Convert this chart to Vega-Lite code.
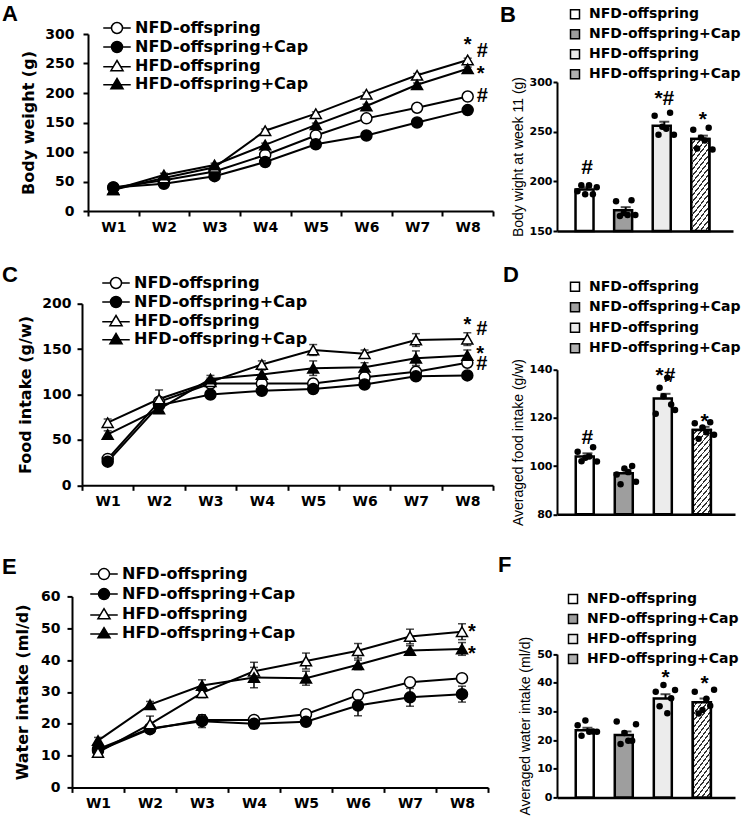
{
"$schema": "https://vega.github.io/schema/vega-lite/v6.json",
"background": "white",
"padding": {"left": 2, "top": 3, "right": 2, "bottom": 2},
"config": {
 "view": {"stroke": null},
 "font": "DejaVu Sans",
 "axis": {"domainColor": "black", "domainWidth": 2, "tickColor": "black", "tickWidth": 2, "labelColor": "black", "titleColor": "black", "labelFont": "DejaVu Sans", "labelFontWeight": "bold", "titleFont": "DejaVu Sans", "titleFontWeight": "bold", "grid": false},
 "legend": {"labelColor": "black", "labelFont": "DejaVu Sans", "labelFontWeight": "bold", "labelLimit": 400},
 "title": {"font": "Liberation Sans", "fontWeight": "bold", "fontSize": 22, "color": "black", "anchor": "start", "frame": "group", "offset": 0}
},
"datasets": {
 "bw": [
  {"week": 1, "group": "NFD-offspring", "value": 40, "lower": 37, "upper": 43},
  {"week": 2, "group": "NFD-offspring", "value": 52, "lower": 49, "upper": 55},
  {"week": 3, "group": "NFD-offspring", "value": 67, "lower": 64, "upper": 70},
  {"week": 4, "group": "NFD-offspring", "value": 95, "lower": 92, "upper": 98},
  {"week": 5, "group": "NFD-offspring", "value": 128, "lower": 125, "upper": 131},
  {"week": 6, "group": "NFD-offspring", "value": 157, "lower": 154, "upper": 160},
  {"week": 7, "group": "NFD-offspring", "value": 175, "lower": 172, "upper": 178},
  {"week": 8, "group": "NFD-offspring", "value": 194, "lower": 191, "upper": 197},
  {"week": 1, "group": "NFD-offspring+Cap", "value": 40, "lower": 37, "upper": 43},
  {"week": 2, "group": "NFD-offspring+Cap", "value": 46, "lower": 43, "upper": 49},
  {"week": 3, "group": "NFD-offspring+Cap", "value": 59, "lower": 56, "upper": 62},
  {"week": 4, "group": "NFD-offspring+Cap", "value": 83, "lower": 80, "upper": 86},
  {"week": 5, "group": "NFD-offspring+Cap", "value": 113, "lower": 110, "upper": 116},
  {"week": 6, "group": "NFD-offspring+Cap", "value": 128, "lower": 125, "upper": 131},
  {"week": 7, "group": "NFD-offspring+Cap", "value": 150, "lower": 147, "upper": 153},
  {"week": 8, "group": "NFD-offspring+Cap", "value": 171, "lower": 168, "upper": 174},
  {"week": 1, "group": "HFD-offspring", "value": 36, "lower": 33, "upper": 39},
  {"week": 2, "group": "HFD-offspring", "value": 56, "lower": 53, "upper": 59},
  {"week": 3, "group": "HFD-offspring", "value": 74, "lower": 71, "upper": 77},
  {"week": 4, "group": "HFD-offspring", "value": 136, "lower": 133, "upper": 139},
  {"week": 5, "group": "HFD-offspring", "value": 165, "lower": 162, "upper": 168},
  {"week": 6, "group": "HFD-offspring", "value": 198, "lower": 195, "upper": 201},
  {"week": 7, "group": "HFD-offspring", "value": 230, "lower": 227, "upper": 233},
  {"week": 8, "group": "HFD-offspring", "value": 256, "lower": 253, "upper": 259},
  {"week": 1, "group": "HFD-offspring+Cap", "value": 36, "lower": 33, "upper": 39},
  {"week": 2, "group": "HFD-offspring+Cap", "value": 61, "lower": 58, "upper": 64},
  {"week": 3, "group": "HFD-offspring+Cap", "value": 78, "lower": 75, "upper": 81},
  {"week": 4, "group": "HFD-offspring+Cap", "value": 112, "lower": 109, "upper": 115},
  {"week": 5, "group": "HFD-offspring+Cap", "value": 146, "lower": 143, "upper": 149},
  {"week": 6, "group": "HFD-offspring+Cap", "value": 178, "lower": 175, "upper": 181},
  {"week": 7, "group": "HFD-offspring+Cap", "value": 214, "lower": 211, "upper": 217},
  {"week": 8, "group": "HFD-offspring+Cap", "value": 241, "lower": 238, "upper": 244}
 ],
 "bwAnn": [
  {"week": 8, "value": 271, "label": "*", "pos": "c"},
  {"week": 8, "value": 261, "label": "#", "pos": "r"},
  {"week": 8, "value": 222, "label": "*", "pos": "r"},
  {"week": 8, "value": 185, "label": "#", "pos": "r"}
 ],
 "food": [
  {"week": 1, "group": "NFD-offspring", "value": 29, "lower": 26, "upper": 32},
  {"week": 2, "group": "NFD-offspring", "value": 92, "lower": 88, "upper": 96},
  {"week": 3, "group": "NFD-offspring", "value": 112, "lower": 108, "upper": 116},
  {"week": 4, "group": "NFD-offspring", "value": 112, "lower": 108, "upper": 116},
  {"week": 5, "group": "NFD-offspring", "value": 112, "lower": 107, "upper": 117},
  {"week": 6, "group": "NFD-offspring", "value": 119, "lower": 115, "upper": 123},
  {"week": 7, "group": "NFD-offspring", "value": 125, "lower": 120, "upper": 130},
  {"week": 8, "group": "NFD-offspring", "value": 135, "lower": 131, "upper": 139},
  {"week": 1, "group": "NFD-offspring+Cap", "value": 26, "lower": 24, "upper": 28},
  {"week": 2, "group": "NFD-offspring+Cap", "value": 88, "lower": 85, "upper": 91},
  {"week": 3, "group": "NFD-offspring+Cap", "value": 100, "lower": 97, "upper": 103},
  {"week": 4, "group": "NFD-offspring+Cap", "value": 104, "lower": 101, "upper": 107},
  {"week": 5, "group": "NFD-offspring+Cap", "value": 106, "lower": 103, "upper": 109},
  {"week": 6, "group": "NFD-offspring+Cap", "value": 111, "lower": 108, "upper": 114},
  {"week": 7, "group": "NFD-offspring+Cap", "value": 120, "lower": 117, "upper": 123},
  {"week": 8, "group": "NFD-offspring+Cap", "value": 121, "lower": 118, "upper": 124},
  {"week": 1, "group": "HFD-offspring", "value": 69, "lower": 65, "upper": 73},
  {"week": 2, "group": "HFD-offspring", "value": 95, "lower": 85, "upper": 105},
  {"week": 3, "group": "HFD-offspring", "value": 114, "lower": 110, "upper": 118},
  {"week": 4, "group": "HFD-offspring", "value": 133, "lower": 129, "upper": 137},
  {"week": 5, "group": "HFD-offspring", "value": 149, "lower": 143, "upper": 155},
  {"week": 6, "group": "HFD-offspring", "value": 145, "lower": 141, "upper": 149},
  {"week": 7, "group": "HFD-offspring", "value": 160, "lower": 153, "upper": 167},
  {"week": 8, "group": "HFD-offspring", "value": 161, "lower": 154, "upper": 168},
  {"week": 1, "group": "HFD-offspring+Cap", "value": 56, "lower": 52, "upper": 60},
  {"week": 2, "group": "HFD-offspring+Cap", "value": 84, "lower": 80, "upper": 88},
  {"week": 3, "group": "HFD-offspring+Cap", "value": 117, "lower": 113, "upper": 121},
  {"week": 4, "group": "HFD-offspring+Cap", "value": 122, "lower": 117, "upper": 127},
  {"week": 5, "group": "HFD-offspring+Cap", "value": 129, "lower": 121, "upper": 137},
  {"week": 6, "group": "HFD-offspring+Cap", "value": 130, "lower": 125, "upper": 135},
  {"week": 7, "group": "HFD-offspring+Cap", "value": 140, "lower": 132, "upper": 148},
  {"week": 8, "group": "HFD-offspring+Cap", "value": 143, "lower": 137, "upper": 149}
 ],
 "foodAnn": [
  {"week": 8, "value": 170, "label": "*", "pos": "c"},
  {"week": 8, "value": 165, "label": "#", "pos": "r"},
  {"week": 8, "value": 138, "label": "*", "pos": "r"},
  {"week": 8, "value": 127, "label": "#", "pos": "r"}
 ],
 "water": [
  {"week": 1, "group": "NFD-offspring", "value": 11.5, "lower": 10.7, "upper": 12.3},
  {"week": 2, "group": "NFD-offspring", "value": 18.3, "lower": 17.3, "upper": 19.3},
  {"week": 3, "group": "NFD-offspring", "value": 21.2, "lower": 19.7, "upper": 22.7},
  {"week": 4, "group": "NFD-offspring", "value": 21.2, "lower": 20.2, "upper": 22.2},
  {"week": 5, "group": "NFD-offspring", "value": 23, "lower": 22, "upper": 24},
  {"week": 6, "group": "NFD-offspring", "value": 29, "lower": 28, "upper": 30},
  {"week": 7, "group": "NFD-offspring", "value": 33, "lower": 32, "upper": 34},
  {"week": 8, "group": "NFD-offspring", "value": 34.3, "lower": 33.3, "upper": 35.3},
  {"week": 1, "group": "NFD-offspring+Cap", "value": 12, "lower": 11, "upper": 13},
  {"week": 2, "group": "NFD-offspring+Cap", "value": 18.5, "lower": 17.5, "upper": 19.5},
  {"week": 3, "group": "NFD-offspring+Cap", "value": 20.8, "lower": 18.8, "upper": 22.8},
  {"week": 4, "group": "NFD-offspring+Cap", "value": 20, "lower": 18.5, "upper": 21.5},
  {"week": 5, "group": "NFD-offspring+Cap", "value": 20.6, "lower": 19.6, "upper": 21.6},
  {"week": 6, "group": "NFD-offspring+Cap", "value": 25.7, "lower": 22.5, "upper": 28.9},
  {"week": 7, "group": "NFD-offspring+Cap", "value": 28.3, "lower": 25.5, "upper": 31.1},
  {"week": 8, "group": "NFD-offspring+Cap", "value": 29.3, "lower": 26.8, "upper": 31.8},
  {"week": 1, "group": "HFD-offspring", "value": 11, "lower": 10, "upper": 12},
  {"week": 2, "group": "HFD-offspring", "value": 19.9, "lower": 17.4, "upper": 22.4},
  {"week": 3, "group": "HFD-offspring", "value": 29.7, "lower": 28.2, "upper": 31.2},
  {"week": 4, "group": "HFD-offspring", "value": 36.5, "lower": 33.7, "upper": 39.3},
  {"week": 5, "group": "HFD-offspring", "value": 39.7, "lower": 37.2, "upper": 42.2},
  {"week": 6, "group": "HFD-offspring", "value": 42.9, "lower": 40.6, "upper": 45.2},
  {"week": 7, "group": "HFD-offspring", "value": 47.4, "lower": 45.1, "upper": 49.7},
  {"week": 8, "group": "HFD-offspring", "value": 48.9, "lower": 46.4, "upper": 51.4},
  {"week": 1, "group": "HFD-offspring+Cap", "value": 14.7, "lower": 13.7, "upper": 15.7},
  {"week": 2, "group": "HFD-offspring+Cap", "value": 26, "lower": 25, "upper": 27},
  {"week": 3, "group": "HFD-offspring+Cap", "value": 32, "lower": 30.2, "upper": 33.8},
  {"week": 4, "group": "HFD-offspring+Cap", "value": 34.5, "lower": 31.3, "upper": 37.7},
  {"week": 5, "group": "HFD-offspring+Cap", "value": 34.3, "lower": 32.1, "upper": 36.5},
  {"week": 6, "group": "HFD-offspring+Cap", "value": 38.5, "lower": 37, "upper": 40},
  {"week": 7, "group": "HFD-offspring+Cap", "value": 43, "lower": 41.5, "upper": 44.5},
  {"week": 8, "group": "HFD-offspring+Cap", "value": 43.5, "lower": 41.5, "upper": 45.5}
 ],
 "waterAnn": [
  {"week": 8, "value": 46.8, "label": "*", "pos": "r"},
  {"week": 8, "value": 39.9, "label": "*", "pos": "r"}
 ],
 "bwBar": [
  {"group": "NFD-offspring", "mean": 191.7, "upper": 194},
  {"group": "NFD-offspring+Cap", "mean": 171, "upper": 174},
  {"group": "HFD-offspring", "mean": 256, "upper": 260},
  {"group": "HFD-offspring+Cap", "mean": 242.5, "upper": 246}
 ],
 "foodBar": [
  {"group": "NFD-offspring", "mean": 104, "upper": 105.3},
  {"group": "NFD-offspring+Cap", "mean": 97, "upper": 98.5},
  {"group": "HFD-offspring", "mean": 128, "upper": 130},
  {"group": "HFD-offspring+Cap", "mean": 115, "upper": 116.3}
 ],
 "waterBar": [
  {"group": "NFD-offspring", "mean": 23.4, "upper": 24.3},
  {"group": "NFD-offspring+Cap", "mean": 21.8, "upper": 23},
  {"group": "HFD-offspring", "mean": 34.5, "upper": 36},
  {"group": "HFD-offspring+Cap", "mean": 33.2, "upper": 34.5}
 ],
 "bwDots": [
  {"group": "NFD-offspring", "rep": 1, "value": 190}, {"group": "NFD-offspring", "rep": 2, "value": 196}, {"group": "NFD-offspring", "rep": 3, "value": 187},
  {"group": "NFD-offspring", "rep": 4, "value": 196}, {"group": "NFD-offspring", "rep": 5, "value": 187}, {"group": "NFD-offspring", "rep": 6, "value": 194},
  {"group": "NFD-offspring+Cap", "rep": 1, "value": 180}, {"group": "NFD-offspring+Cap", "rep": 2, "value": 165}, {"group": "NFD-offspring+Cap", "rep": 3, "value": 168},
  {"group": "NFD-offspring+Cap", "rep": 4, "value": 166}, {"group": "NFD-offspring+Cap", "rep": 5, "value": 181}, {"group": "NFD-offspring+Cap", "rep": 6, "value": 166},
  {"group": "HFD-offspring", "rep": 1, "value": 266}, {"group": "HFD-offspring", "rep": 2, "value": 247}, {"group": "HFD-offspring", "rep": 3, "value": 255},
  {"group": "HFD-offspring", "rep": 4, "value": 253}, {"group": "HFD-offspring", "rep": 5, "value": 269}, {"group": "HFD-offspring", "rep": 6, "value": 247},
  {"group": "HFD-offspring+Cap", "rep": 1, "value": 252}, {"group": "HFD-offspring+Cap", "rep": 2, "value": 233}, {"group": "HFD-offspring+Cap", "rep": 3, "value": 244},
  {"group": "HFD-offspring+Cap", "rep": 4, "value": 241}, {"group": "HFD-offspring+Cap", "rep": 5, "value": 254}, {"group": "HFD-offspring+Cap", "rep": 6, "value": 232}
 ],
 "foodDots": [
  {"group": "NFD-offspring", "rep": 1, "value": 106}, {"group": "NFD-offspring", "rep": 2, "value": 102}, {"group": "NFD-offspring", "rep": 3, "value": 103.5},
  {"group": "NFD-offspring", "rep": 4, "value": 104}, {"group": "NFD-offspring", "rep": 5, "value": 107.8}, {"group": "NFD-offspring", "rep": 6, "value": 101.9},
  {"group": "NFD-offspring+Cap", "rep": 1, "value": 96.5}, {"group": "NFD-offspring+Cap", "rep": 2, "value": 92.5}, {"group": "NFD-offspring+Cap", "rep": 3, "value": 99},
  {"group": "NFD-offspring+Cap", "rep": 4, "value": 97.5}, {"group": "NFD-offspring+Cap", "rep": 5, "value": 100}, {"group": "NFD-offspring+Cap", "rep": 6, "value": 93.5},
  {"group": "HFD-offspring", "rep": 1, "value": 121.7}, {"group": "HFD-offspring", "rep": 2, "value": 132.5}, {"group": "HFD-offspring", "rep": 3, "value": 129},
  {"group": "HFD-offspring", "rep": 4, "value": 136.7}, {"group": "HFD-offspring", "rep": 5, "value": 125.6}, {"group": "HFD-offspring", "rep": 6, "value": 123.3},
  {"group": "HFD-offspring+Cap", "rep": 1, "value": 117.8}, {"group": "HFD-offspring+Cap", "rep": 2, "value": 111.3}, {"group": "HFD-offspring+Cap", "rep": 3, "value": 116},
  {"group": "HFD-offspring+Cap", "rep": 4, "value": 114}, {"group": "HFD-offspring+Cap", "rep": 5, "value": 118.2}, {"group": "HFD-offspring+Cap", "rep": 6, "value": 113}
 ],
 "waterDots": [
  {"group": "NFD-offspring", "rep": 1, "value": 25.2}, {"group": "NFD-offspring", "rep": 2, "value": 21.5}, {"group": "NFD-offspring", "rep": 3, "value": 26.8},
  {"group": "NFD-offspring", "rep": 4, "value": 22.9}, {"group": "NFD-offspring", "rep": 5, "value": 23}, {"group": "NFD-offspring", "rep": 6, "value": 22.9},
  {"group": "NFD-offspring+Cap", "rep": 1, "value": 26.5}, {"group": "NFD-offspring+Cap", "rep": 2, "value": 18.6}, {"group": "NFD-offspring+Cap", "rep": 3, "value": 22.5},
  {"group": "NFD-offspring+Cap", "rep": 4, "value": 19.8}, {"group": "NFD-offspring+Cap", "rep": 5, "value": 19.8}, {"group": "NFD-offspring+Cap", "rep": 6, "value": 25.5},
  {"group": "HFD-offspring", "rep": 1, "value": 36.9}, {"group": "HFD-offspring", "rep": 2, "value": 31.8}, {"group": "HFD-offspring", "rep": 3, "value": 39.2},
  {"group": "HFD-offspring", "rep": 4, "value": 29.4}, {"group": "HFD-offspring", "rep": 5, "value": 34.6}, {"group": "HFD-offspring", "rep": 6, "value": 37.5},
  {"group": "HFD-offspring+Cap", "rep": 1, "value": 36.9}, {"group": "HFD-offspring+Cap", "rep": 2, "value": 29.3}, {"group": "HFD-offspring+Cap", "rep": 3, "value": 30.5},
  {"group": "HFD-offspring+Cap", "rep": 4, "value": 34.4}, {"group": "HFD-offspring+Cap", "rep": 5, "value": 32}, {"group": "HFD-offspring+Cap", "rep": 6, "value": 37.6}
 ],
 "bwBarAnn": [
  {"group": "NFD-offspring", "value": 207, "label": "#"},
  {"group": "HFD-offspring", "value": 277, "label": "*#"},
  {"group": "HFD-offspring+Cap", "value": 256, "label": "*"}
 ],
 "foodBarAnn": [
  {"group": "NFD-offspring", "value": 109, "label": "#"},
  {"group": "HFD-offspring", "value": 135, "label": "*#"},
  {"group": "HFD-offspring+Cap", "value": 115.7, "label": "*"}
 ],
 "waterBarAnn": [
  {"group": "HFD-offspring", "value": 39.4, "label": "*"},
  {"group": "HFD-offspring+Cap", "value": 37.3, "label": "*"}
 ]
},
"bounds": "flush",
"columns": 2,
"spacing": {"row": 72.7, "column": 64},
"resolve": {"scale": {"fill": "independent", "shape": "independent", "size": "independent"}},
"concat": [
 {
  "title": {"text": "A", "dx": -70, "dy": 10},
  "width": 421, "height": 177,
  "data": {"name": "bw"},
  "encoding": {
   "x": {"field": "week", "type": "quantitative", "title": null, "scale": {"domain": [0.5, 8.5], "range": [16, 421], "nice": false, "zero": false},
    "axis": {"values": [0.5,1,1.5,2,2.5,3,3.5,4,4.5,5,5.5,6,6.5,7,7.5,8,8.5], "labelExpr": "datum.value % 1 === 0 ? 'W' + datum.value : ''", "tickOpacity": {"condition": {"test": "datum.value % 1 === 0", "value": 0}, "value": 1}, "tickSize": 5, "labelFontSize": 14, "labelPadding": 4, "labelFlush": false, "labelOverlap": false}},
   "y": {"field": "value", "type": "quantitative", "title": "Body weight (g)", "scale": {"domain": [0, 300], "nice": false},
    "axis": {"values": [0,50,100,150,200,250,300], "offset": -16, "tickSize": 5, "labelFontSize": 14, "labelPadding": 9, "titleFontSize": 16, "titlePadding": 8}}
  },
  "layer": [
   {"mark": {"type": "errorbar", "ticks": true, "color": "black", "thickness": 1.5, "size": 8}, "encoding": {"y": {"field": "lower", "type": "quantitative", "title": "Body weight (g)"}, "y2": {"field": "upper"}}},
   {"mark": {"type": "line", "color": "black", "strokeWidth": 2}, "encoding": {"detail": {"field": "group"}}},
   {"mark": {"type": "point", "filled": true, "stroke": "black", "strokeWidth": 1.5, "opacity": 1},
    "encoding": {
     "shape": {"field": "group", "type": "nominal", "scale": {"domain": ["NFD-offspring", "NFD-offspring+Cap", "HFD-offspring", "HFD-offspring+Cap"], "range": ["circle", "circle", "triangle-up", "triangle-up"]}, "legend": null},
     "fill": {"field": "group", "type": "nominal", "scale": {"domain": ["NFD-offspring", "NFD-offspring+Cap", "HFD-offspring", "HFD-offspring+Cap"], "range": ["white", "black", "white", "black"]}, "legend": null},
     "size": {"field": "group", "type": "nominal", "scale": {"domain": ["NFD-offspring", "NFD-offspring+Cap", "HFD-offspring", "HFD-offspring+Cap"], "range": [121, 121, 169, 169]}, "legend": null}
    }},
   {"transform": [{"filter": "datum.week > 100"}],
    "mark": {"type": "point", "filled": true, "stroke": "black", "strokeWidth": 1.5, "opacity": 1},
    "encoding": {
     "shape": {"field": "group", "type": "nominal", "scale": {"domain": ["NFD-offspring", "NFD-offspring+Cap", "HFD-offspring", "HFD-offspring+Cap"], "range": ["M-2.5,0L-1,0M1,0L2.5,0M-1,0A1,1,0,1,1,1,0A1,1,0,1,1,-1,0Z", "M-2.5,0L-1,0M1,0L2.5,0M-1,0A1,1,0,1,1,1,0A1,1,0,1,1,-1,0Z", "M-2.5,0.15L-0.7,0.15M0.7,0.15L2.5,0.15M0,-1L1.1,0.85L-1.1,0.85Z", "M-2.5,0.15L-0.7,0.15M0.7,0.15L2.5,0.15M0,-1L1.1,0.85L-1.1,0.85Z"]},
      "legend": {"orient": "none", "legendX": 37, "legendY": -14, "title": null, "symbolSize": 121, "labelFontSize": 16, "labelOffset": 10, "rowPadding": 1, "encode": {"symbols": {"update": {"stroke": {"value": "black"}, "strokeWidth": {"value": 1.8}}}}}},
     "fill": {"field": "group", "type": "nominal", "scale": {"domain": ["NFD-offspring", "NFD-offspring+Cap", "HFD-offspring", "HFD-offspring+Cap"], "range": ["white", "black", "white", "black"]},
      "legend": {"orient": "none", "legendX": 37, "legendY": -14, "title": null, "symbolSize": 121, "labelFontSize": 16, "labelOffset": 10, "rowPadding": 1, "encode": {"symbols": {"update": {"stroke": {"value": "black"}, "strokeWidth": {"value": 1.8}}}}}}
    }},
   {"data": {"name": "bwAnn"}, "transform": [{"filter": "datum.pos === 'c'"}], "mark": {"type": "text", "font": "Liberation Sans", "fontWeight": "bold", "fontSize": 20, "align": "center", "baseline": "alphabetic", "color": "black"}, "encoding": {"text": {"field": "label"}}},
   {"data": {"name": "bwAnn"}, "transform": [{"filter": "datum.pos === 'r'"}], "mark": {"type": "text", "font": "Liberation Sans", "fontWeight": "bold", "fontSize": 20, "align": "left", "dx": 9, "baseline": "alphabetic", "color": "black"}, "encoding": {"text": {"field": "label"}}}
  ],
  "resolve": {"scale": {"shape": "independent", "fill": "independent", "size": "independent"}}
 },
 {
  "title": {"text": "B", "dx": -57, "dy": 24},
  "width": 176, "height": 197,
  "encoding": {
   "x": {"field": "group", "type": "nominal", "title": null, "sort": ["NFD-offspring", "NFD-offspring+Cap", "HFD-offspring", "HFD-offspring+Cap"], "scale": {"paddingInner": 0.4, "paddingOuter": 0.48}, "axis": {"labels": false, "ticks": false, "domainWidth": 2.5}}
  },
  "layer": [
   {"data": {"name": "bwBar"}, "mark": {"type": "bar", "stroke": "black", "strokeWidth": 2.5},
    "encoding": {
     "y": {"field": "mean", "type": "quantitative", "title": "Body wight at week 11 (g)", "scale": {"domain": [150, 300], "range": [197, 48], "nice": false, "zero": false},
      "axis": {"values": [150, 200, 250, 300], "tickSize": 4, "labelFontSize": 11, "labelPadding": 1, "titleFont": "Liberation Sans", "titleFontWeight": "normal", "titleFontSize": 14, "titlePadding": 4}},
     "y2": {"datum": 150},
     "fill": {"field": "group", "type": "nominal", "scale": {"domain": ["NFD-offspring", "NFD-offspring+Cap", "HFD-offspring", "HFD-offspring+Cap"], "range": ["white", "#9e9e9e", "#ececec", "#b0b0b0"]},
      "legend": {"orient": "none", "legendX": 11, "legendY": -26.7, "title": null, "symbolType": "square", "symbolSize": 81, "labelFontSize": 14, "labelOffset": 7, "rowPadding": 4,
       "encode": {"symbols": {"update": {"stroke": {"value": "black"}, "strokeWidth": {"value": 1.5}}}}}}
    }},
   {"data": {"name": "bwBar"}, "transform": [{"filter": "datum.group === 'HFD-offspring+Cap'"}],
    "mark": {"type": "bar", "stroke": "black", "strokeWidth": 2.5, "fill": {"gradient": "linear", "x1": 0, "y1": 0, "x2": 0.3, "y2": 1.2, "stops": [
  {"offset": 0, "color": "white"}, {"offset": 0.0389, "color": "white"}, {"offset": 0.0389, "color": "#333"}, {"offset": 0.0556, "color": "#333"},
  {"offset": 0.0556, "color": "white"}, {"offset": 0.0944, "color": "white"}, {"offset": 0.0944, "color": "#333"}, {"offset": 0.1111, "color": "#333"},
  {"offset": 0.1111, "color": "white"}, {"offset": 0.15, "color": "white"}, {"offset": 0.15, "color": "#333"}, {"offset": 0.1667, "color": "#333"},
  {"offset": 0.1667, "color": "white"}, {"offset": 0.2056, "color": "white"}, {"offset": 0.2056, "color": "#333"}, {"offset": 0.2222, "color": "#333"},
  {"offset": 0.2222, "color": "white"}, {"offset": 0.2611, "color": "white"}, {"offset": 0.2611, "color": "#333"}, {"offset": 0.2778, "color": "#333"},
  {"offset": 0.2778, "color": "white"}, {"offset": 0.3167, "color": "white"}, {"offset": 0.3167, "color": "#333"}, {"offset": 0.3333, "color": "#333"},
  {"offset": 0.3333, "color": "white"}, {"offset": 0.3722, "color": "white"}, {"offset": 0.3722, "color": "#333"}, {"offset": 0.3889, "color": "#333"},
  {"offset": 0.3889, "color": "white"}, {"offset": 0.4278, "color": "white"}, {"offset": 0.4278, "color": "#333"}, {"offset": 0.4444, "color": "#333"},
  {"offset": 0.4444, "color": "white"}, {"offset": 0.4833, "color": "white"}, {"offset": 0.4833, "color": "#333"}, {"offset": 0.5, "color": "#333"},
  {"offset": 0.5, "color": "white"}, {"offset": 0.5389, "color": "white"}, {"offset": 0.5389, "color": "#333"}, {"offset": 0.5556, "color": "#333"},
  {"offset": 0.5556, "color": "white"}, {"offset": 0.5944, "color": "white"}, {"offset": 0.5944, "color": "#333"}, {"offset": 0.6111, "color": "#333"},
  {"offset": 0.6111, "color": "white"}, {"offset": 0.65, "color": "white"}, {"offset": 0.65, "color": "#333"}, {"offset": 0.6667, "color": "#333"},
  {"offset": 0.6667, "color": "white"}, {"offset": 0.7056, "color": "white"}, {"offset": 0.7056, "color": "#333"}, {"offset": 0.7222, "color": "#333"},
  {"offset": 0.7222, "color": "white"}, {"offset": 0.7611, "color": "white"}, {"offset": 0.7611, "color": "#333"}, {"offset": 0.7778, "color": "#333"},
  {"offset": 0.7778, "color": "white"}, {"offset": 0.8167, "color": "white"}, {"offset": 0.8167, "color": "#333"}, {"offset": 0.8333, "color": "#333"},
  {"offset": 0.8333, "color": "white"}, {"offset": 0.8722, "color": "white"}, {"offset": 0.8722, "color": "#333"}, {"offset": 0.8889, "color": "#333"},
  {"offset": 0.8889, "color": "white"}, {"offset": 0.9278, "color": "white"}, {"offset": 0.9278, "color": "#333"}, {"offset": 0.9444, "color": "#333"},
  {"offset": 0.9444, "color": "white"}, {"offset": 0.9833, "color": "white"}, {"offset": 0.9833, "color": "#333"}, {"offset": 1, "color": "#333"}]}},
    "encoding": {"y": {"field": "mean", "type": "quantitative", "title": "Body wight at week 11 (g)"}, "y2": {"datum": 150}}},
   {"data": {"name": "bwBar"}, "mark": {"type": "rule", "color": "black", "strokeWidth": 2},
    "encoding": {"y": {"field": "mean", "type": "quantitative", "title": "Body wight at week 11 (g)"}, "y2": {"field": "upper"}}},
   {"data": {"name": "bwBar"}, "mark": {"type": "tick", "color": "black", "thickness": 2, "size": 10},
    "encoding": {"y": {"field": "upper", "type": "quantitative", "title": "Body wight at week 11 (g)"}}},
   {"data": {"name": "bwDots"}, "mark": {"type": "point", "filled": true, "color": "black", "size": 42, "opacity": 1},
    "encoding": {"y": {"field": "value", "type": "quantitative", "title": "Body wight at week 11 (g)"}, "xOffset": {"field": "rep", "type": "nominal"}}},
   {"data": {"name": "bwBarAnn"}, "mark": {"type": "text", "font": "Liberation Sans", "fontWeight": "bold", "fontSize": 21, "align": "center", "baseline": "alphabetic", "color": "black"},
    "encoding": {"y": {"field": "value", "type": "quantitative", "title": "Body wight at week 11 (g)"}, "text": {"field": "label"}}}
  ]
 },
 {
  "title": {"text": "C", "dx": -70, "dy": 16},
  "width": 421, "height": 181.6,
  "data": {"name": "food"},
  "encoding": {
   "x": {"field": "week", "type": "quantitative", "title": null, "scale": {"domain": [0.5, 8.5], "range": [10, 421], "nice": false, "zero": false},
    "axis": {"values": [0.5,1,1.5,2,2.5,3,3.5,4,4.5,5,5.5,6,6.5,7,7.5,8,8.5], "labelExpr": "datum.value % 1 === 0 ? 'W' + datum.value : ''", "tickOpacity": {"condition": {"test": "datum.value % 1 === 0", "value": 0}, "value": 1}, "tickSize": 5, "labelFontSize": 14, "labelPadding": 4, "labelFlush": false, "labelOverlap": false}},
   "y": {"field": "value", "type": "quantitative", "title": "Food intake (g/w)", "scale": {"domain": [0, 200], "nice": false},
    "axis": {"values": [0,50,100,150,200], "offset": -10, "tickSize": 5, "labelFontSize": 14, "labelPadding": 6, "titleFontSize": 16, "titlePadding": 8}}
  },
  "layer": [
   {"mark": {"type": "errorbar", "ticks": true, "color": "black", "thickness": 1.5, "size": 8}, "encoding": {"y": {"field": "lower", "type": "quantitative", "title": "Food intake (g/w)"}, "y2": {"field": "upper"}}},
   {"mark": {"type": "line", "color": "black", "strokeWidth": 2}, "encoding": {"detail": {"field": "group"}}},
   {"mark": {"type": "point", "filled": true, "stroke": "black", "strokeWidth": 1.5, "opacity": 1},
    "encoding": {
     "shape": {"field": "group", "type": "nominal", "scale": {"domain": ["NFD-offspring", "NFD-offspring+Cap", "HFD-offspring", "HFD-offspring+Cap"], "range": ["circle", "circle", "triangle-up", "triangle-up"]}, "legend": null},
     "fill": {"field": "group", "type": "nominal", "scale": {"domain": ["NFD-offspring", "NFD-offspring+Cap", "HFD-offspring", "HFD-offspring+Cap"], "range": ["white", "black", "white", "black"]}, "legend": null},
     "size": {"field": "group", "type": "nominal", "scale": {"domain": ["NFD-offspring", "NFD-offspring+Cap", "HFD-offspring", "HFD-offspring+Cap"], "range": [121, 121, 169, 169]}, "legend": null}
    }},
   {"transform": [{"filter": "datum.week > 100"}],
    "mark": {"type": "point", "filled": true, "stroke": "black", "strokeWidth": 1.5, "opacity": 1},
    "encoding": {
     "shape": {"field": "group", "type": "nominal", "scale": {"domain": ["NFD-offspring", "NFD-offspring+Cap", "HFD-offspring", "HFD-offspring+Cap"], "range": ["M-2.5,0L-1,0M1,0L2.5,0M-1,0A1,1,0,1,1,1,0A1,1,0,1,1,-1,0Z", "M-2.5,0L-1,0M1,0L2.5,0M-1,0A1,1,0,1,1,1,0A1,1,0,1,1,-1,0Z", "M-2.5,0.15L-0.7,0.15M0.7,0.15L2.5,0.15M0,-1L1.1,0.85L-1.1,0.85Z", "M-2.5,0.15L-0.7,0.15M0.7,0.15L2.5,0.15M0,-1L1.1,0.85L-1.1,0.85Z"]},
      "legend": {"orient": "none", "legendX": 36, "legendY": -28.7, "title": null, "symbolSize": 121, "labelFontSize": 16, "labelOffset": 10, "rowPadding": 1, "encode": {"symbols": {"update": {"stroke": {"value": "black"}, "strokeWidth": {"value": 1.8}}}}}},
     "fill": {"field": "group", "type": "nominal", "scale": {"domain": ["NFD-offspring", "NFD-offspring+Cap", "HFD-offspring", "HFD-offspring+Cap"], "range": ["white", "black", "white", "black"]},
      "legend": {"orient": "none", "legendX": 36, "legendY": -28.7, "title": null, "symbolSize": 121, "labelFontSize": 16, "labelOffset": 10, "rowPadding": 1, "encode": {"symbols": {"update": {"stroke": {"value": "black"}, "strokeWidth": {"value": 1.8}}}}}}
    }},
   {"data": {"name": "foodAnn"}, "transform": [{"filter": "datum.pos === 'c'"}], "mark": {"type": "text", "font": "Liberation Sans", "fontWeight": "bold", "fontSize": 20, "align": "center", "baseline": "alphabetic", "color": "black"}, "encoding": {"text": {"field": "label"}}},
   {"data": {"name": "foodAnn"}, "transform": [{"filter": "datum.pos === 'r'"}], "mark": {"type": "text", "font": "Liberation Sans", "fontWeight": "bold", "fontSize": 20, "align": "left", "dx": 9, "baseline": "alphabetic", "color": "black"}, "encoding": {"text": {"field": "label"}}}
  ],
  "resolve": {"scale": {"shape": "independent", "fill": "independent", "size": "independent"}}
 },
 {
  "title": {"text": "D", "dx": -54, "dy": 11},
  "width": 178, "height": 210.6,
  "encoding": {
   "x": {"field": "group", "type": "nominal", "title": null, "sort": ["NFD-offspring", "NFD-offspring+Cap", "HFD-offspring", "HFD-offspring+Cap"], "scale": {"paddingInner": 0.4, "paddingOuter": 0.48}, "axis": {"labels": false, "ticks": false, "domainWidth": 2.5}}
  },
  "layer": [
   {"data": {"name": "foodBar"}, "mark": {"type": "bar", "stroke": "black", "strokeWidth": 2.5},
    "encoding": {
     "y": {"field": "mean", "type": "quantitative", "title": "Averaged food intake (g/w)", "scale": {"domain": [80, 140], "range": [210.6, 66], "nice": false, "zero": false},
      "axis": {"values": [80, 100, 120, 140], "tickSize": 4, "labelFontSize": 11, "labelPadding": 1, "titleFont": "Liberation Sans", "titleFontWeight": "normal", "titleFontSize": 14, "titlePadding": 4}},
     "y2": {"datum": 80},
     "fill": {"field": "group", "type": "nominal", "scale": {"domain": ["NFD-offspring", "NFD-offspring+Cap", "HFD-offspring", "HFD-offspring+Cap"], "range": ["white", "#9e9e9e", "#ececec", "#b0b0b0"]},
      "legend": {"orient": "none", "legendX": 11, "legendY": -24, "title": null, "symbolType": "square", "symbolSize": 81, "labelFontSize": 14, "labelOffset": 7, "rowPadding": 4.5,
       "encode": {"symbols": {"update": {"stroke": {"value": "black"}, "strokeWidth": {"value": 1.5}}}}}}
    }},
   {"data": {"name": "foodBar"}, "transform": [{"filter": "datum.group === 'HFD-offspring+Cap'"}],
    "mark": {"type": "bar", "stroke": "black", "strokeWidth": 2.5, "fill": {"gradient": "linear", "x1": 0, "y1": 0, "x2": 0.3, "y2": 1.2, "stops": [
  {"offset": 0, "color": "white"}, {"offset": 0.0389, "color": "white"}, {"offset": 0.0389, "color": "#333"}, {"offset": 0.0556, "color": "#333"},
  {"offset": 0.0556, "color": "white"}, {"offset": 0.0944, "color": "white"}, {"offset": 0.0944, "color": "#333"}, {"offset": 0.1111, "color": "#333"},
  {"offset": 0.1111, "color": "white"}, {"offset": 0.15, "color": "white"}, {"offset": 0.15, "color": "#333"}, {"offset": 0.1667, "color": "#333"},
  {"offset": 0.1667, "color": "white"}, {"offset": 0.2056, "color": "white"}, {"offset": 0.2056, "color": "#333"}, {"offset": 0.2222, "color": "#333"},
  {"offset": 0.2222, "color": "white"}, {"offset": 0.2611, "color": "white"}, {"offset": 0.2611, "color": "#333"}, {"offset": 0.2778, "color": "#333"},
  {"offset": 0.2778, "color": "white"}, {"offset": 0.3167, "color": "white"}, {"offset": 0.3167, "color": "#333"}, {"offset": 0.3333, "color": "#333"},
  {"offset": 0.3333, "color": "white"}, {"offset": 0.3722, "color": "white"}, {"offset": 0.3722, "color": "#333"}, {"offset": 0.3889, "color": "#333"},
  {"offset": 0.3889, "color": "white"}, {"offset": 0.4278, "color": "white"}, {"offset": 0.4278, "color": "#333"}, {"offset": 0.4444, "color": "#333"},
  {"offset": 0.4444, "color": "white"}, {"offset": 0.4833, "color": "white"}, {"offset": 0.4833, "color": "#333"}, {"offset": 0.5, "color": "#333"},
  {"offset": 0.5, "color": "white"}, {"offset": 0.5389, "color": "white"}, {"offset": 0.5389, "color": "#333"}, {"offset": 0.5556, "color": "#333"},
  {"offset": 0.5556, "color": "white"}, {"offset": 0.5944, "color": "white"}, {"offset": 0.5944, "color": "#333"}, {"offset": 0.6111, "color": "#333"},
  {"offset": 0.6111, "color": "white"}, {"offset": 0.65, "color": "white"}, {"offset": 0.65, "color": "#333"}, {"offset": 0.6667, "color": "#333"},
  {"offset": 0.6667, "color": "white"}, {"offset": 0.7056, "color": "white"}, {"offset": 0.7056, "color": "#333"}, {"offset": 0.7222, "color": "#333"},
  {"offset": 0.7222, "color": "white"}, {"offset": 0.7611, "color": "white"}, {"offset": 0.7611, "color": "#333"}, {"offset": 0.7778, "color": "#333"},
  {"offset": 0.7778, "color": "white"}, {"offset": 0.8167, "color": "white"}, {"offset": 0.8167, "color": "#333"}, {"offset": 0.8333, "color": "#333"},
  {"offset": 0.8333, "color": "white"}, {"offset": 0.8722, "color": "white"}, {"offset": 0.8722, "color": "#333"}, {"offset": 0.8889, "color": "#333"},
  {"offset": 0.8889, "color": "white"}, {"offset": 0.9278, "color": "white"}, {"offset": 0.9278, "color": "#333"}, {"offset": 0.9444, "color": "#333"},
  {"offset": 0.9444, "color": "white"}, {"offset": 0.9833, "color": "white"}, {"offset": 0.9833, "color": "#333"}, {"offset": 1, "color": "#333"}]}},
    "encoding": {"y": {"field": "mean", "type": "quantitative", "title": "Averaged food intake (g/w)"}, "y2": {"datum": 80}}},
   {"data": {"name": "foodBar"}, "mark": {"type": "rule", "color": "black", "strokeWidth": 2},
    "encoding": {"y": {"field": "mean", "type": "quantitative", "title": "Averaged food intake (g/w)"}, "y2": {"field": "upper"}}},
   {"data": {"name": "foodBar"}, "mark": {"type": "tick", "color": "black", "thickness": 2, "size": 10},
    "encoding": {"y": {"field": "upper", "type": "quantitative", "title": "Averaged food intake (g/w)"}}},
   {"data": {"name": "foodDots"}, "mark": {"type": "point", "filled": true, "color": "black", "size": 42, "opacity": 1},
    "encoding": {"y": {"field": "value", "type": "quantitative", "title": "Averaged food intake (g/w)"}, "xOffset": {"field": "rep", "type": "nominal"}}},
   {"data": {"name": "foodBarAnn"}, "mark": {"type": "text", "font": "Liberation Sans", "fontWeight": "bold", "fontSize": 21, "align": "center", "baseline": "alphabetic", "color": "black"},
    "encoding": {"y": {"field": "value", "type": "quantitative", "title": "Averaged food intake (g/w)"}, "text": {"field": "label"}}}
  ]
 },
 {
  "title": {"text": "E", "dx": -70, "dy": 17},
  "width": 416, "height": 200,
  "data": {"name": "water"},
  "encoding": {
   "x": {"field": "week", "type": "quantitative", "title": null, "scale": {"domain": [0.5, 8.5], "nice": false, "zero": false},
    "axis": {"values": [0.5,1,1.5,2,2.5,3,3.5,4,4.5,5,5.5,6,6.5,7,7.5,8,8.5], "labelExpr": "datum.value % 1 === 0 ? 'W' + datum.value : ''", "tickOpacity": {"condition": {"test": "datum.value % 1 === 0", "value": 0}, "value": 1}, "tickSize": 5, "labelFontSize": 14, "labelPadding": 4, "labelFlush": false, "labelOverlap": false}},
   "y": {"field": "value", "type": "quantitative", "title": "Water intake (ml/d)", "scale": {"domain": [0, 60], "range": [200, 9], "nice": false},
    "axis": {"values": [0,10,20,30,40,50,60], "tickSize": 5, "labelFontSize": 14, "labelPadding": 7, "titleFontSize": 16, "titlePadding": 10}}
  },
  "layer": [
   {"mark": {"type": "errorbar", "ticks": true, "color": "black", "thickness": 1.5, "size": 8}, "encoding": {"y": {"field": "lower", "type": "quantitative", "title": "Water intake (ml/d)"}, "y2": {"field": "upper"}}},
   {"mark": {"type": "line", "color": "black", "strokeWidth": 2}, "encoding": {"detail": {"field": "group"}}},
   {"mark": {"type": "point", "filled": true, "stroke": "black", "strokeWidth": 1.5, "opacity": 1},
    "encoding": {
     "shape": {"field": "group", "type": "nominal", "scale": {"domain": ["NFD-offspring", "NFD-offspring+Cap", "HFD-offspring", "HFD-offspring+Cap"], "range": ["circle", "circle", "triangle-up", "triangle-up"]}, "legend": null},
     "fill": {"field": "group", "type": "nominal", "scale": {"domain": ["NFD-offspring", "NFD-offspring+Cap", "HFD-offspring", "HFD-offspring+Cap"], "range": ["white", "black", "white", "black"]}, "legend": null},
     "size": {"field": "group", "type": "nominal", "scale": {"domain": ["NFD-offspring", "NFD-offspring+Cap", "HFD-offspring", "HFD-offspring+Cap"], "range": [121, 121, 169, 169]}, "legend": null}
    }},
   {"transform": [{"filter": "datum.week > 100"}],
    "mark": {"type": "point", "filled": true, "stroke": "black", "strokeWidth": 1.5, "opacity": 1},
    "encoding": {
     "shape": {"field": "group", "type": "nominal", "scale": {"domain": ["NFD-offspring", "NFD-offspring+Cap", "HFD-offspring", "HFD-offspring+Cap"], "range": ["M-2.5,0L-1,0M1,0L2.5,0M-1,0A1,1,0,1,1,1,0A1,1,0,1,1,-1,0Z", "M-2.5,0L-1,0M1,0L2.5,0M-1,0A1,1,0,1,1,1,0A1,1,0,1,1,-1,0Z", "M-2.5,0.15L-0.7,0.15M0.7,0.15L2.5,0.15M0,-1L1.1,0.85L-1.1,0.85Z", "M-2.5,0.15L-0.7,0.15M0.7,0.15L2.5,0.15M0,-1L1.1,0.85L-1.1,0.85Z"]},
      "legend": {"orient": "none", "legendX": 24, "legendY": -21.3, "title": null, "symbolSize": 121, "labelFontSize": 16, "labelOffset": 10, "rowPadding": 2, "encode": {"symbols": {"update": {"stroke": {"value": "black"}, "strokeWidth": {"value": 1.8}}}}}},
     "fill": {"field": "group", "type": "nominal", "scale": {"domain": ["NFD-offspring", "NFD-offspring+Cap", "HFD-offspring", "HFD-offspring+Cap"], "range": ["white", "black", "white", "black"]},
      "legend": {"orient": "none", "legendX": 24, "legendY": -21.3, "title": null, "symbolSize": 121, "labelFontSize": 16, "labelOffset": 10, "rowPadding": 2, "encode": {"symbols": {"update": {"stroke": {"value": "black"}, "strokeWidth": {"value": 1.8}}}}}}
    }},
   {"data": {"name": "waterAnn"}, "mark": {"type": "text", "font": "Liberation Sans", "fontWeight": "bold", "fontSize": 20, "align": "left", "dx": 6, "baseline": "alphabetic", "color": "black"}, "encoding": {"text": {"field": "label"}}}
  ],
  "resolve": {"scale": {"shape": "independent", "fill": "independent", "size": "independent"}}
 },
 {
  "title": {"text": "F", "dx": -59, "dy": -6},
  "width": 178, "height": 210,
  "encoding": {
   "x": {"field": "group", "type": "nominal", "title": null, "sort": ["NFD-offspring", "NFD-offspring+Cap", "HFD-offspring", "HFD-offspring+Cap"], "scale": {"paddingInner": 0.4, "paddingOuter": 0.48}, "axis": {"labels": false, "ticks": false, "domainWidth": 2.5}}
  },
  "layer": [
   {"data": {"name": "waterBar"}, "mark": {"type": "bar", "stroke": "black", "strokeWidth": 2.5},
    "encoding": {
     "y": {"field": "mean", "type": "quantitative", "title": "Averaged water intake (ml/d)", "scale": {"domain": [0, 50], "range": [210, 66.7], "nice": false},
      "axis": {"values": [0, 10, 20, 30, 40, 50], "tickSize": 4, "labelFontSize": 11, "labelPadding": 1, "titleFont": "Liberation Sans", "titleFontWeight": "normal", "titleFontSize": 14, "titlePadding": 4}},
     "y2": {"datum": 0},
     "fill": {"field": "group", "type": "nominal", "scale": {"domain": ["NFD-offspring", "NFD-offspring+Cap", "HFD-offspring", "HFD-offspring+Cap"], "range": ["white", "#9e9e9e", "#ececec", "#b0b0b0"]},
      "legend": {"orient": "none", "legendX": 9, "legendY": 4.7, "title": null, "symbolType": "square", "symbolSize": 81, "labelFontSize": 14, "labelOffset": 7, "rowPadding": 4,
       "encode": {"symbols": {"update": {"stroke": {"value": "black"}, "strokeWidth": {"value": 1.5}}}}}}
    }},
   {"data": {"name": "waterBar"}, "transform": [{"filter": "datum.group === 'HFD-offspring+Cap'"}],
    "mark": {"type": "bar", "stroke": "black", "strokeWidth": 2.5, "fill": {"gradient": "linear", "x1": 0, "y1": 0, "x2": 0.3, "y2": 1.2, "stops": [
  {"offset": 0, "color": "white"}, {"offset": 0.0389, "color": "white"}, {"offset": 0.0389, "color": "#333"}, {"offset": 0.0556, "color": "#333"},
  {"offset": 0.0556, "color": "white"}, {"offset": 0.0944, "color": "white"}, {"offset": 0.0944, "color": "#333"}, {"offset": 0.1111, "color": "#333"},
  {"offset": 0.1111, "color": "white"}, {"offset": 0.15, "color": "white"}, {"offset": 0.15, "color": "#333"}, {"offset": 0.1667, "color": "#333"},
  {"offset": 0.1667, "color": "white"}, {"offset": 0.2056, "color": "white"}, {"offset": 0.2056, "color": "#333"}, {"offset": 0.2222, "color": "#333"},
  {"offset": 0.2222, "color": "white"}, {"offset": 0.2611, "color": "white"}, {"offset": 0.2611, "color": "#333"}, {"offset": 0.2778, "color": "#333"},
  {"offset": 0.2778, "color": "white"}, {"offset": 0.3167, "color": "white"}, {"offset": 0.3167, "color": "#333"}, {"offset": 0.3333, "color": "#333"},
  {"offset": 0.3333, "color": "white"}, {"offset": 0.3722, "color": "white"}, {"offset": 0.3722, "color": "#333"}, {"offset": 0.3889, "color": "#333"},
  {"offset": 0.3889, "color": "white"}, {"offset": 0.4278, "color": "white"}, {"offset": 0.4278, "color": "#333"}, {"offset": 0.4444, "color": "#333"},
  {"offset": 0.4444, "color": "white"}, {"offset": 0.4833, "color": "white"}, {"offset": 0.4833, "color": "#333"}, {"offset": 0.5, "color": "#333"},
  {"offset": 0.5, "color": "white"}, {"offset": 0.5389, "color": "white"}, {"offset": 0.5389, "color": "#333"}, {"offset": 0.5556, "color": "#333"},
  {"offset": 0.5556, "color": "white"}, {"offset": 0.5944, "color": "white"}, {"offset": 0.5944, "color": "#333"}, {"offset": 0.6111, "color": "#333"},
  {"offset": 0.6111, "color": "white"}, {"offset": 0.65, "color": "white"}, {"offset": 0.65, "color": "#333"}, {"offset": 0.6667, "color": "#333"},
  {"offset": 0.6667, "color": "white"}, {"offset": 0.7056, "color": "white"}, {"offset": 0.7056, "color": "#333"}, {"offset": 0.7222, "color": "#333"},
  {"offset": 0.7222, "color": "white"}, {"offset": 0.7611, "color": "white"}, {"offset": 0.7611, "color": "#333"}, {"offset": 0.7778, "color": "#333"},
  {"offset": 0.7778, "color": "white"}, {"offset": 0.8167, "color": "white"}, {"offset": 0.8167, "color": "#333"}, {"offset": 0.8333, "color": "#333"},
  {"offset": 0.8333, "color": "white"}, {"offset": 0.8722, "color": "white"}, {"offset": 0.8722, "color": "#333"}, {"offset": 0.8889, "color": "#333"},
  {"offset": 0.8889, "color": "white"}, {"offset": 0.9278, "color": "white"}, {"offset": 0.9278, "color": "#333"}, {"offset": 0.9444, "color": "#333"},
  {"offset": 0.9444, "color": "white"}, {"offset": 0.9833, "color": "white"}, {"offset": 0.9833, "color": "#333"}, {"offset": 1, "color": "#333"}]}},
    "encoding": {"y": {"field": "mean", "type": "quantitative", "title": "Averaged water intake (ml/d)"}, "y2": {"datum": 0}}},
   {"data": {"name": "waterBar"}, "mark": {"type": "rule", "color": "black", "strokeWidth": 2},
    "encoding": {"y": {"field": "mean", "type": "quantitative", "title": "Averaged water intake (ml/d)"}, "y2": {"field": "upper"}}},
   {"data": {"name": "waterBar"}, "mark": {"type": "tick", "color": "black", "thickness": 2, "size": 10},
    "encoding": {"y": {"field": "upper", "type": "quantitative", "title": "Averaged water intake (ml/d)"}}},
   {"data": {"name": "waterDots"}, "mark": {"type": "point", "filled": true, "color": "black", "size": 42, "opacity": 1},
    "encoding": {"y": {"field": "value", "type": "quantitative", "title": "Averaged water intake (ml/d)"}, "xOffset": {"field": "rep", "type": "nominal"}}},
   {"data": {"name": "waterBarAnn"}, "mark": {"type": "text", "font": "Liberation Sans", "fontWeight": "bold", "fontSize": 21, "align": "center", "baseline": "alphabetic", "color": "black"},
    "encoding": {"y": {"field": "value", "type": "quantitative", "title": "Averaged water intake (ml/d)"}, "text": {"field": "label"}}}
  ]
 }
]
}
